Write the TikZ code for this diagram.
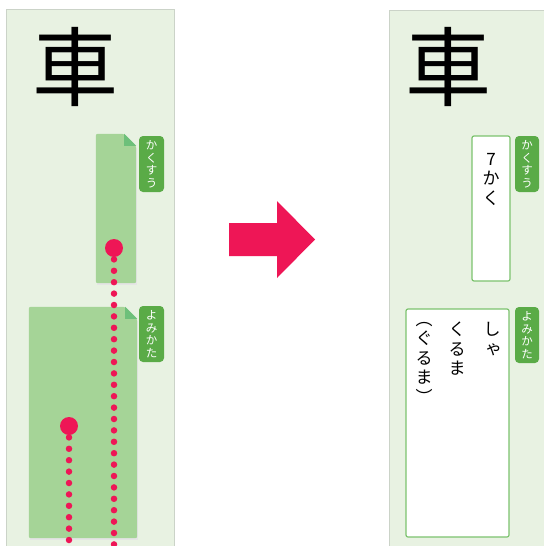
\documentclass[tikz,border=0pt]{standalone}
\usepackage{fontspec}
\newfontfamily\jpfont{Noto Sans CJK JP}
\usetikzlibrary{calc}
\definecolor{panelbg}{HTML}{E8F2E2}
\definecolor{panelline}{HTML}{CBD3C8}
\definecolor{papergreen}{HTML}{A5D497}
\definecolor{foldgreen}{HTML}{6DC07A}
\definecolor{taggreen}{HTML}{5AAB47}
\definecolor{boxline}{HTML}{7CC36E}
\definecolor{hotpink}{HTML}{EE1656}
\tikzset{
	tag/.style={fill=taggreen, rounded corners=4pt, minimum width=25pt, minimum height=56pt, text=white, font=\jpfont\fontsize{11.5}{12.5}\selectfont, align=center, inner sep=0pt},
	paper/.style={inner sep=0pt},
	answer/.style={draw=boxline, line width=1.2pt, fill=white, rounded corners=2pt, inner sep=0pt},
	column/.style={anchor=north, align=center, font=\jpfont\fontsize{17}{19.5}\selectfont, inner sep=0pt},
	pin/.style={circle, fill=hotpink, minimum size=18pt, inner sep=0pt},
	trail/.style={hotpink, line width=6.5pt, line cap=round, dash pattern=on 0pt off 11.4pt},
	bigkanji/.style={font=\jpfont\fontsize{86}{86}\selectfont, inner sep=0pt}
}
\begin{document}
\begin{tikzpicture}[x=1pt, y=-1pt]
				\useasboundingbox (0,0) rectangle (544,546);
				\fill[white] (0,0) rectangle (544,546);
				% left panel
				\fill[panelbg] (6,9) rectangle (174,546);
				\draw[panelline] (6,546) -- (6,9) -- (174,9) -- (174,546);
				\node[bigkanji] (kanjiL) at (75,67) {車};
				\node[paper, minimum width=40pt, minimum height=149pt] (kakupaper) at (116,208.5) {};
				\fill[black!10] ($(kakupaper.south west)+(1,1.5)$) rectangle ($(kakupaper.north east)+(1,14)$);
				\fill[papergreen, rounded corners=2pt] (kakupaper.south west) -- (kakupaper.north west) -- ($(kakupaper.north east)+(-12,0)$) -- ($(kakupaper.north east)+(0,12)$) -- (kakupaper.south east) -- cycle;
				\fill[foldgreen] ($(kakupaper.north east)+(-12,0)$) -- ($(kakupaper.north east)+(0,12)$) -- ($(kakupaper.north east)+(-12,12)$) -- cycle;
				\node[tag] (kakutagL) at (151.5,164) {か\\く\\す\\う};
				\node[paper, minimum width=108pt, minimum height=231pt] (yomipaper) at (83,422.5) {};
				\fill[black!10] ($(yomipaper.south west)+(1,1.5)$) rectangle ($(yomipaper.north east)+(1,14)$);
				\fill[papergreen, rounded corners=2pt] (yomipaper.south west) -- (yomipaper.north west) -- ($(yomipaper.north east)+(-12,0)$) -- ($(yomipaper.north east)+(0,12)$) -- (yomipaper.south east) -- cycle;
				\fill[foldgreen] ($(yomipaper.north east)+(-12,0)$) -- ($(yomipaper.north east)+(0,12)$) -- ($(yomipaper.north east)+(-12,12)$) -- cycle;
				\node[tag] (yomitagL) at (151.5,334) {よ\\み\\か\\た};
				% pins and dotted trails
				\coordinate (kakuend) at (114,552);
				\coordinate (yomiend) at (69,552);
				\draw[trail] (114,248) -- (kakuend);
				\draw[trail] (69,426) -- (yomiend);
				\node[pin] (kakupin) at (114,248) {};
				\node[pin] (yomipin) at (69,426) {};
				% arrow
				\fill[hotpink] (229,223) -- (277,223) -- (277,201) -- (315,239.5) -- (277,278) -- (277,256) -- (229,256) -- cycle;
				% right panel
				\fill[panelbg] (389,10) rectangle (544,546);
				\draw[panelline] (389,546) -- (389,10) -- (544,10);
				\node[bigkanji] (kanjiR) at (448,67) {車};
				\node[answer, minimum width=38pt, minimum height=145pt] (kakubox) at (491,208.5) {};
				\node[column] (kakutext) at (491,153) {7\\か\\く};
				\node[tag, minimum width=24pt] (kakutagR) at (527,164) {か\\く\\す\\う};
				\node[answer, minimum width=103pt, minimum height=228pt] (yomibox) at (457.5,423) {};
				\node[column] (yomione) at (492,322) {し\\\hspace{3pt}ゃ};
				\node[column] (yomitwo) at (457,322) {く\\る\\ま};
				\node[column] (yomithree) at (424,322) {︵\\ぐ\\る\\ま\\︶};
				\node[tag, minimum width=24pt] (yomitagR) at (527,335) {よ\\み\\か\\た};
\end{tikzpicture}
\end{document}
